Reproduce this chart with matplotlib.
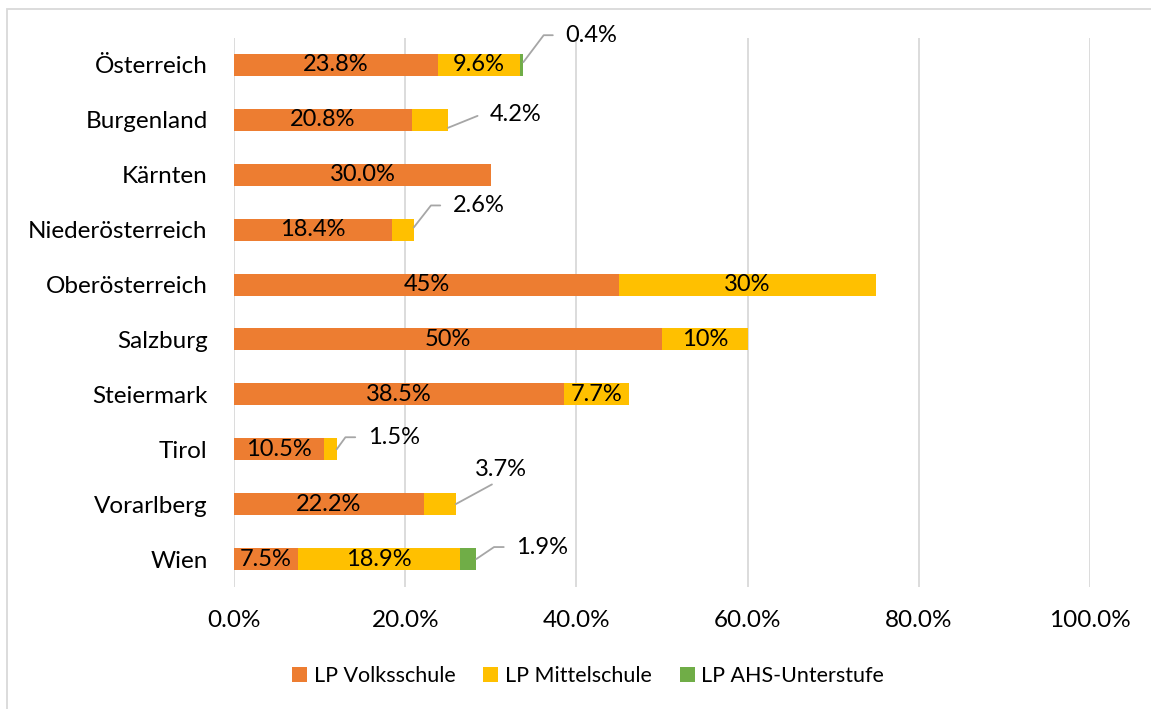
import matplotlib
matplotlib.use("Agg")
import matplotlib.pyplot as plt
from matplotlib.patches import Rectangle
from matplotlib.ticker import FuncFormatter

plt.rcParams['font.family'] = ['Lato', 'DejaVu Sans']

categories = ["Österreich", "Burgenland", "Kärnten", "Niederösterreich", "Oberösterreich",
              "Salzburg", "Steiermark", "Tirol", "Vorarlberg", "Wien"]
volksschule = [23.8, 20.8, 30.0, 18.4, 45, 50, 38.5, 10.5, 22.2, 7.5]
mittelschule = [9.6, 4.2, 0, 2.6, 30, 10, 7.7, 1.5, 3.7, 18.9]
ahs = [0.4, 0, 0, 0, 0, 0, 0, 0, 0, 1.9]
volks_labels = ["23.8%", "20.8%", "30.0%", "18.4%", "45%", "50%", "38.5%", "10.5%", "22.2%", "7.5%"]
mittel_labels = ["9.6%", "4.2%", "", "2.6%", "30%", "10%", "7.7%", "1.5%", "3.7%", "18.9%"]
ahs_labels = ["0.4%", "", "", "", "", "", "", "", "", "1.9%"]
series_names = ["LP Volksschule", "LP Mittelschule", "LP AHS-Unterstufe"]
xticks = [0, 20, 40, 60, 80, 100]

colors = ["#ED7D31", "#FFC000", "#70AD47"]

fig = plt.figure(figsize=(11.51, 7.09), dpi=100)
ax = fig.add_axes([234/1151, 1-586.5/709, (1090-234)/1151, 549/709])

y = list(range(len(categories)))
h = 0.4
b1 = ax.barh(y, volksschule, height=h, color=colors[0], label=series_names[0], zorder=2)
left2 = volksschule
b2 = ax.barh(y, mittelschule, left=left2, height=h, color=colors[1], label=series_names[1], zorder=2)
left3 = [a + b for a, b in zip(volksschule, mittelschule)]
b3 = ax.barh(y, ahs, left=left3, height=h, color=colors[2], label=series_names[2], zorder=2)

ax.set_ylim(len(categories) - 0.5, -0.5)
ax.set_xlim(0, 100)
ax.set_yticks(y)
ax.set_yticklabels(categories, fontsize=17.5)
ax.set_xticks(xticks)
ax.xaxis.set_major_formatter(FuncFormatter(lambda v, p: f"{v:.1f}%"))
ax.tick_params(axis='x', labelsize=17.5, length=0, pad=17)
ax.tick_params(axis='y', length=0, pad=19)
for s in ax.spines.values():
    s.set_visible(False)
ax.grid(axis='x', color='#D9D9D9', linewidth=1.3, zorder=0)
ax.set_axisbelow(True)

# inside labels
fs = 17
for i in y:
    ax.text(volksschule[i] / 2, i, volks_labels[i], ha='center', va='center', fontsize=fs, zorder=3)
    if mittelschule[i] > 5:
        ax.text(volksschule[i] + mittelschule[i] / 2, i, mittel_labels[i], ha='center', va='center',
                fontsize=fs, zorder=3)

# callout labels: (index, series, dy data, dx px, dy px, angleB)
lead_color = '#A6A6A6'
callouts = [
    (0, 2, -0.05, 42, 27, 53),
    (1, 1, 0.145, 42, 13, 22),
    (3, 1, -0.04, 39, 22, 52),
    (7, 1, 0.0, 31, 12, 54),
    (9, 2, 0.0, 40, 12, 34),
]
for i, s, ddy, dx, dyp, ang in callouts:
    end = left3[i] + ahs[i]
    lab = ahs_labels[i] if s == 2 else mittel_labels[i]
    ax.annotate(lab, xy=(end, i + ddy), xytext=(dx, dyp), textcoords='offset pixels',
                ha='left', va='center', fontsize=fs,
                arrowprops=dict(arrowstyle='-', color=lead_color, lw=1.3,
                                connectionstyle=f'angle,angleA=0,angleB={ang},rad=0',
                                relpos=(0, 0.5), shrinkA=7, shrinkB=0))
# Vorarlberg straight leader
i = 8
ax.annotate(mittel_labels[i], xy=(left3[i], i), xytext=(45, 35), textcoords='offset pixels',
            ha='center', va='center', fontsize=fs,
            arrowprops=dict(arrowstyle='-', color=lead_color, lw=1.3,
                            connectionstyle='arc3', relpos=(0.5, 0), shrinkA=3, shrinkB=0))

leg = fig.legend(handles=[b1, b2, b3], labels=series_names, loc='center',
                 bbox_to_anchor=(588/1151, 1-676/709), ncol=3, frameon=False, fontsize=15.5,
                 handlelength=0.7, handleheight=0.7, handletextpad=0.3, columnspacing=1.3)

fig.patches.append(Rectangle((7.5/1151, -0.1), 2, (709-8.5)/709 + 0.1, transform=fig.transFigure,
                             fill=False, edgecolor='#D9D9D9', linewidth=1.3))

fig.savefig("out.png", dpi=100)
